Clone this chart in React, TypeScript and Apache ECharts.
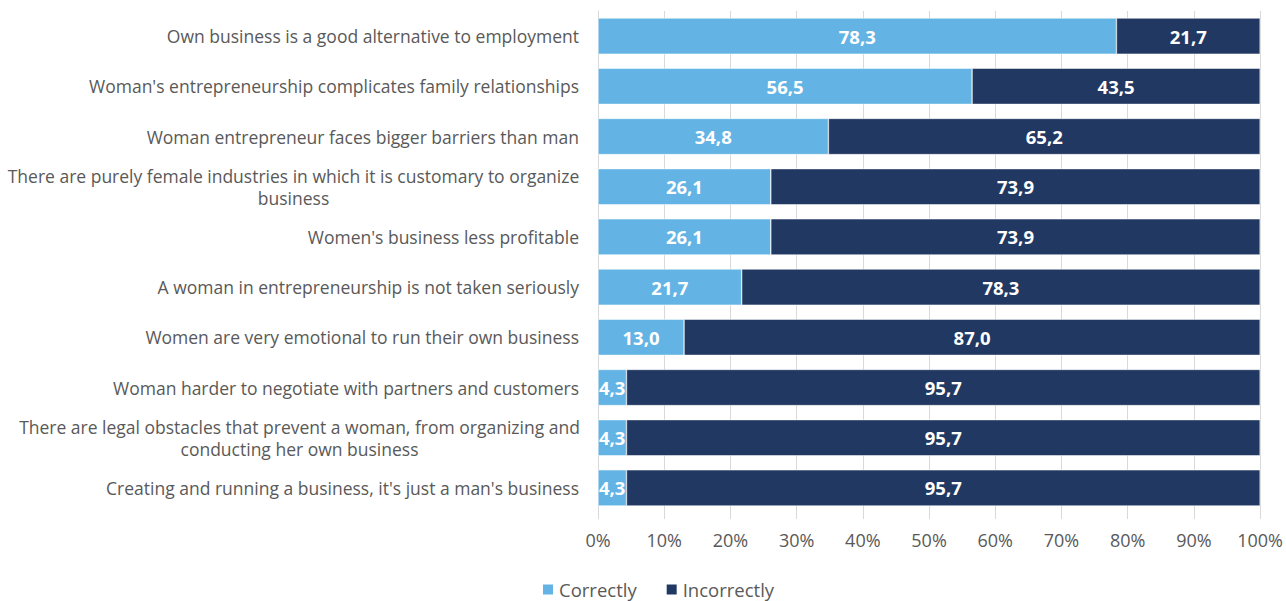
import React, { useEffect, useRef } from "react";
import * as echarts from "echarts";

const categories = [
  "Own business is a good alternative to employment",
  "Woman's entrepreneurship complicates family relationships",
  "Woman entrepreneur faces bigger barriers than man",
  "There are purely female industries in which it is customary to organize\nbusiness",
  "Women's business less profitable",
  "A woman in entrepreneurship is not taken seriously",
  "Women are very emotional to run their own business",
  "Woman harder to negotiate with partners and customers",
  "There are legal obstacles that prevent a woman, from organizing and\nconducting her own business",
  "Creating and running a business, it's just a man's business",
];
const correctly = [78.3, 56.5, 34.8, 26.1, 26.1, 21.7, 13.0, 4.3, 4.3, 4.3];
const incorrectly = [21.7, 43.5, 65.2, 73.9, 73.9, 78.3, 87.0, 95.7, 95.7, 95.7];
const xTicks = [0, 10, 20, 30, 40, 50, 60, 70, 80, 90, 100];

const FONT = "'Open Sans', sans-serif";
const fmt = (v: number) => v.toFixed(1).replace(".", ",");

export default function App() {
  const ref = useRef<HTMLDivElement>(null);
  useEffect(() => {
    if (!ref.current) return;
    const chart = echarts.init(ref.current, null, { renderer: "svg" });
    const labelStyle = {
      show: true,
      position: "inside" as const,
      color: "#ffffff",
      fontWeight: "bold" as const,
      fontSize: 18.5,
      fontFamily: FONT,
      formatter: (p: any) => fmt(p.value),
    };
    const richBase = { align: "center", color: "#595959", fontSize: 17.5, fontFamily: FONT, lineHeight: 22 };
    chart.setOption({
      animation: false,
      textStyle: { fontFamily: FONT },
      grid: { left: 598, right: 24, top: 11, bottom: 88, containLabel: false },
      legend: {
        top: 580,
        left: 541,
        padding: 0,
        itemWidth: 12,
        itemHeight: 12,
        itemGap: 28,
        icon: "rect",
        textStyle: { color: "#595959", fontSize: 18.5, fontFamily: FONT },
        data: ["Correctly", "Incorrectly"],
      },
      xAxis: {
        type: "value",
        min: 0,
        max: 100,
        interval: 10,
        axisLabel: {
          formatter: (v: number) => (xTicks.includes(v) ? v + "%" : ""),
          color: "#595959",
          fontSize: 18,
          fontFamily: FONT,
          margin: 18,
        },
        axisLine: { show: false },
        axisTick: { show: true, length: 6, lineStyle: { color: "#d9d9d9" } },
        splitLine: { show: true, lineStyle: { color: "#d9d9d9", width: 1 } },
      },
      yAxis: {
        type: "category",
        inverse: true,
        data: categories,
        axisLine: { show: true, lineStyle: { color: "#d9d9d9" } },
        axisTick: { show: false },
        axisLabel: {
          color: "#595959",
          fontSize: 17.5,
          fontFamily: FONT,
          margin: 19,
          lineHeight: 22,
          formatter: (v: string) => {
            if (v.includes("\n")) {
              const key = v.startsWith("There are purely") ? "a" : "b";
              return v
                .split("\n")
                .map((l) => "{" + key + "|" + l + "}")
                .join("\n");
            }
            return v;
          },
          rich: {
            a: { ...richBase, width: 571 },
            b: { ...richBase, width: 559 },
          },
        },
      },
      series: [
        {
          name: "Correctly",
          type: "bar",
          stack: "total",
          barWidth: "72%",
          data: correctly,
          itemStyle: { color: "#63b4e4", borderColor: "#ffffff", borderWidth: 0.5 },
          label: labelStyle,
        },
        {
          name: "Incorrectly",
          type: "bar",
          stack: "total",
          barWidth: "72%",
          data: incorrectly,
          itemStyle: { color: "#213862", borderColor: "#ffffff", borderWidth: 0.5 },
          label: labelStyle,
        },
      ],
    });
    return () => chart.dispose();
  }, []);
  return <div ref={ref} style={{ width: 1286, height: 601, position: "absolute", left: 0, top: 0 }} />;
}
